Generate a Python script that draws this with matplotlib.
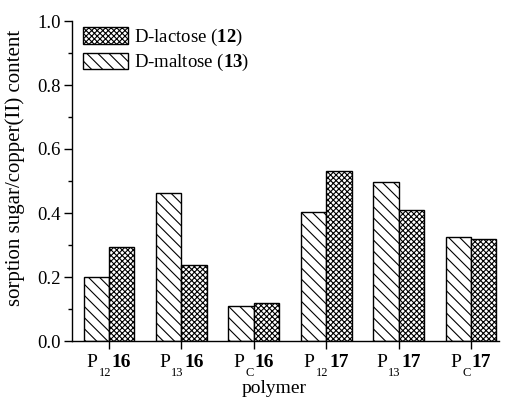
import matplotlib
matplotlib.use("Agg")
import matplotlib.pyplot as plt
import numpy as np
from matplotlib.ticker import MultipleLocator
from matplotlib.patches import Patch

plt.rcParams['font.family'] = ['Liberation Serif']
plt.rcParams['mathtext.fontset'] = 'custom'
plt.rcParams['mathtext.rm'] = 'Liberation Serif'
plt.rcParams['mathtext.bf'] = 'Liberation Serif:bold'
plt.rcParams['mathtext.it'] = 'Liberation Serif:italic'
plt.rcParams['hatch.linewidth'] = 0.8

# category labels: (main letter, subscript, bold compound number)
cat_main = ['P', 'P', 'P', 'P', 'P', 'P']
cat_sub = ['12', '13', 'C', '12', '13', 'C']
cat_num = ['16', '16', '16', '17', '17', '17']
maltose = [0.201, 0.462, 0.110, 0.404, 0.496, 0.324]
lactose = [0.295, 0.237, 0.118, 0.530, 0.409, 0.318]
series_labels = [r'D-lactose ($\mathbf{12}$)', r'D-maltose ($\mathbf{13}$)']

W, H = 505, 399
fig = plt.figure(figsize=(W/100, H/100), dpi=100)
ax = fig.add_axes([72/W, 58/H, 427/W, 320/H])

x = np.arange(len(cat_num))
w = 0.35
ax.bar(x - w/2, maltose, w, color='white', edgecolor='black', hatch='\\\\\\', linewidth=1.0)
ax.bar(x + w/2, lactose, w, color='white', edgecolor='black', hatch='xxxxxx', linewidth=1.0)

ax.set_xlim(-0.511, 5.387)
ax.set_ylim(0, 1.0)
ax.set_xticks(x)
ax.set_xticklabels([])
yt = np.arange(0, 1.01, 0.2)
ax.set_yticks(yt)
ax.set_yticklabels(['%.1f' % v for v in yt], fontsize=13.5)
ax.yaxis.set_minor_locator(MultipleLocator(0.1))
ax.tick_params(axis='both', which='major', direction='out', length=5.5, width=1, pad=2.5)
ax.tick_params(axis='y', which='minor', direction='out', length=3, width=1)
ax.spines['top'].set_visible(False)
ax.spines['right'].set_visible(False)
for s in ['left', 'bottom']:
    ax.spines[s].set_linewidth(1.0)

# custom composite tick labels: P + low subscript + bold number
fig.canvas.draw()
renderer = fig.canvas.get_renderer()
main_fs, sub_fs = 14, 9
base_off = -26 * 72 / 100   # baseline offset (points) below axis
sub_off = -35 * 72 / 100
for i in range(len(cat_num)):
    t1 = ax.annotate(cat_main[i], xy=(i, 0), xycoords=('data', 'axes fraction'),
                     xytext=(0, base_off), textcoords='offset points',
                     ha='left', va='baseline', fontsize=main_fs)
    t2 = ax.annotate(cat_sub[i], xy=(i, 0), xycoords=('data', 'axes fraction'),
                     xytext=(0, sub_off), textcoords='offset points',
                     ha='left', va='baseline', fontsize=sub_fs)
    t3 = ax.annotate(cat_num[i], xy=(i, 0), xycoords=('data', 'axes fraction'),
                     xytext=(0, base_off), textcoords='offset points',
                     ha='left', va='baseline', fontsize=main_fs, fontweight='bold')
    w1 = t1.get_window_extent(renderer).width
    w2 = t2.get_window_extent(renderer).width
    w3 = t3.get_window_extent(renderer).width
    gap = 1.0
    total = w1 + gap + w2 + gap + w3
    start = -total / 2
    t1.xyann = (start * 72 / 100, base_off)
    t2.xyann = ((start + w1 + gap) * 72 / 100, sub_off)
    t3.xyann = ((start + w1 + gap + w2 + gap) * 72 / 100, base_off)

ax.set_xlabel('polymer', fontsize=14)
ax.xaxis.set_label_coords((274 - 72) / 427, -0.122)
ax.set_ylabel('sorption sugar/copper(II) content', fontsize=15)
ax.yaxis.set_label_coords((25 - 72) / 427, (341 - 168) / 320)

handles = [Patch(facecolor='white', edgecolor='black', hatch='xxxxxx'),
           Patch(facecolor='white', edgecolor='black', hatch='\\\\\\')]
ax.legend(handles, series_labels,
          loc='upper left', bbox_to_anchor=(0.0, 1.017), frameon=False, fontsize=13.5,
          handlelength=2.4, handleheight=0.95, handletextpad=0.3, labelspacing=0.22,
          borderaxespad=0.3, borderpad=0.3)

fig.savefig('out.png', dpi=100)
